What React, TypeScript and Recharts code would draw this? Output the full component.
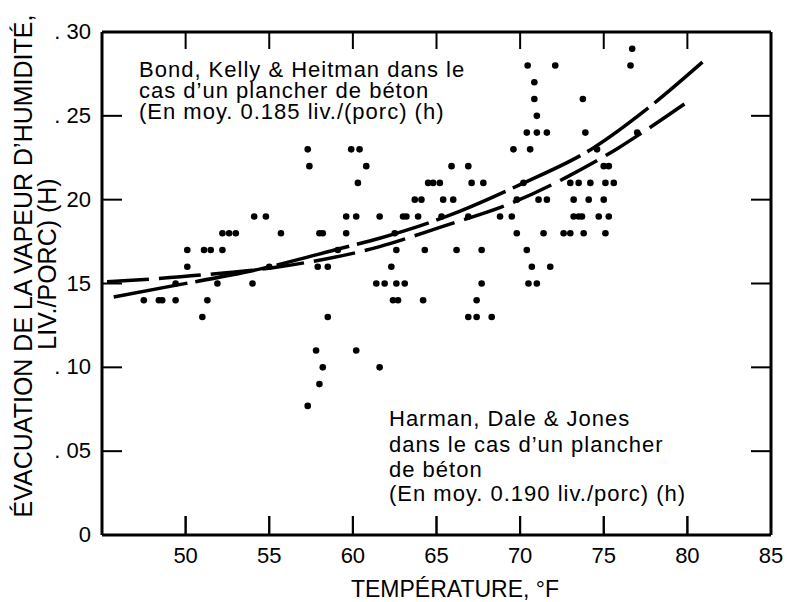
import React from 'react'
import { ComposedChart, Line, Scatter, XAxis, YAxis, ReferenceLine } from 'recharts'

// axes
const X_TICKS = [50, 55, 60, 65, 70, 75, 80, 85]
const X_INNER_TICKS = [50, 55, 60, 65, 70, 75, 80]
const Y_TICKS = [0, 0.05, 0.1, 0.15, 0.2, 0.25, 0.3]
const Y_INNER_TICKS = [0.05, 0.1, 0.15, 0.2, 0.25]
const Y_TICK_LABELS = ['0', '. 05', '. 10', '15', '20', '. 25', '. 30']

// observed points (temperature °F, lb per pig per hour)
const obsTemp = [
  47.5, 48.4, 48.6, 49.4, 49.4, 50.1, 50.1, 51.1, 51.5, 52.2, 52.2, 52.6, 53.0, 54.1, 54.8, 55.7,
  51.0, 51.3, 51.9, 54.0, 55.0,
  57.3, 57.4, 59.9, 60.4, 60.8, 60.3, 65.9, 64.5, 64.8, 65.2, 63.7, 64.1, 65.4, 66.0,
  59.6, 60.2, 61.6, 63.0, 63.2, 63.9, 65.3, 58.0, 58.2, 59.6, 62.5, 59.1, 62.6, 64.3, 66.2,
  57.9, 58.5, 62.3, 61.4, 61.9, 62.6, 63.1, 62.4, 62.7, 64.2, 58.5, 57.8, 60.2, 58.2, 61.6,
  58.0, 57.3,
  70.4, 71.0, 71.6, 73.9, 69.6, 70.6, 66.9, 74.6, 75.0, 75.3, 67.1, 67.8, 70.2, 73.0, 73.5,
  74.2, 75.1, 75.6, 69.8, 71.1, 71.6, 73.2, 74.1, 75.0, 66.9, 68.8, 69.5, 73.2, 73.5, 73.7,
  74.7, 75.3, 69.8, 71.4, 72.6, 73.0, 73.8, 75.1, 67.7, 70.4, 70.7, 71.8, 67.7, 70.5, 71.0,
  67.4, 66.9, 67.4, 68.3,
  70.45, 72.1, 70.85, 70.85, 73.75, 71.0, 76.7, 76.6, 77.0,
]
const obsRate = [
  0.14, 0.14, 0.14, 0.14, 0.15, 0.16, 0.17, 0.17, 0.17, 0.17, 0.18, 0.18, 0.18, 0.19, 0.19, 0.18,
  0.13, 0.14, 0.15, 0.15, 0.16,
  0.23, 0.22, 0.23, 0.23, 0.22, 0.21, 0.22, 0.21, 0.21, 0.21, 0.2, 0.2, 0.2, 0.2,
  0.19, 0.19, 0.19, 0.19, 0.19, 0.19, 0.19, 0.18, 0.18, 0.18, 0.18, 0.17, 0.17, 0.17, 0.17,
  0.16, 0.16, 0.16, 0.15, 0.15, 0.15, 0.15, 0.14, 0.14, 0.14, 0.13, 0.11, 0.11, 0.1, 0.1,
  0.09, 0.077,
  0.24, 0.24, 0.24, 0.24, 0.23, 0.23, 0.22, 0.23, 0.22, 0.22, 0.21, 0.21, 0.21, 0.21, 0.21,
  0.21, 0.21, 0.21, 0.2, 0.2, 0.2, 0.2, 0.2, 0.2, 0.19, 0.19, 0.19, 0.19, 0.19, 0.19,
  0.19, 0.19, 0.18, 0.18, 0.18, 0.18, 0.18, 0.18, 0.17, 0.17, 0.16, 0.16, 0.15, 0.15, 0.15,
  0.14, 0.13, 0.13, 0.13,
  0.28, 0.28, 0.27, 0.26, 0.26, 0.25, 0.29, 0.28, 0.24,
]

// fitted curves
const curveATemp = [45.7, 48.9, 54.6, 59.3, 61.6, 65.6, 70.0, 74.4, 77.7, 80.9]
const curveARate = [0.142, 0.148, 0.159, 0.171, 0.177, 0.19, 0.209, 0.231, 0.255, 0.282]
const curveBTemp = [45.3, 50.9, 55.6, 61.6, 65.2, 69.5, 72.7, 75.9, 77.3, 80.1]
const curveBRate = [0.151, 0.155, 0.16, 0.172, 0.1835, 0.198, 0.213, 0.231, 0.24, 0.259]

const X_MIN = 45
const X_MAX = 85
const Y_MIN = 0
const Y_MAX = 0.3

const points = obsTemp.map((t, i) => ({ t, v: obsRate[i] }))
const curveA = curveATemp.map((t, i) => ({ t, v: curveARate[i] }))
const curveB = curveBTemp.map((t, i) => ({ t, v: curveBRate[i] }))

// tick positions on the four edges of the frame
const bottomTicks = X_INNER_TICKS.map((t) => ({ t, v: Y_MIN }))
const topTicks = X_INNER_TICKS.map((t) => ({ t, v: Y_MAX }))
const leftTicks = Y_INNER_TICKS.map((v) => ({ t: X_MIN, v }))
const rightTicks = Y_INNER_TICKS.map((v) => ({ t: X_MAX, v }))

const W = 790
const H = 602
const MARGIN = { top: 32, right: 19, bottom: 0, left: 0 }

const FONT = '"Liberation Sans", Arial, sans-serif'

const BottomTick = (props: any) => {
  const { x, y, payload } = props
  return (
    <g>
      {payload.value < X_MAX && <line x1={x} y1={y} x2={x} y2={y - 19} stroke="#000" strokeWidth={2} />}
      <text x={x} y={y + 28} textAnchor="middle" fontFamily={FONT} fontSize={22} fill="#000">
        {payload.value}
      </text>
    </g>
  )
}

const LeftTick = (props: any) => {
  const { x, y, payload } = props
  const idx = Y_TICKS.findIndex((t) => Math.abs(t - payload.value) < 1e-6)
  return (
    <text x={x - 11} y={y} dy={7} textAnchor="end" fontFamily={FONT} fontSize={22} fill="#000">
      {Y_TICK_LABELS[idx]}
    </text>
  )
}

const dot = (p: any) => <circle cx={p.cx} cy={p.cy} r={3.3} fill="#000" />
const upTick = (p: any) => <line x1={p.cx} y1={p.cy} x2={p.cx} y2={p.cy - 19} stroke="#000" strokeWidth={2} />
const downTick = (p: any) => <line x1={p.cx} y1={p.cy} x2={p.cx} y2={p.cy + 17} stroke="#000" strokeWidth={2} />
const rightwardTick = (p: any) => <line x1={p.cx} y1={p.cy} x2={p.cx + 20} y2={p.cy} stroke="#000" strokeWidth={2} />
const leftwardTick = (p: any) => <line x1={p.cx} y1={p.cy} x2={p.cx - 20} y2={p.cy} stroke="#000" strokeWidth={2} />

// titles and notes, drawn inside the chart's own svg
const Texts = () => (
  <g fontFamily={FONT} fill="#000">
    <text transform="translate(32,266) rotate(-90)" textAnchor="middle" fontSize={25}>
      ÉVACUATION DE LA VAPEUR D’HUMIDITÉ,
    </text>
    <text transform="translate(56,264) rotate(-90)" textAnchor="middle" fontSize={25}>
      LIV./PORC) (H)
    </text>
    <text x={455} y={597} textAnchor="middle" fontSize={23}>
      TEMPÉRATURE, °F
    </text>
    <g fontSize={22} letterSpacing={1}>
      <text x={139} y={77}>Bond, Kelly &amp; Heitman dans le</text>
      <text x={139} y={98}>cas d’un plancher de béton</text>
      <text x={139} y={119}>(En moy. 0.185 liv./(porc) (h)</text>
      <text x={389} y={426}>Harman, Dale &amp; Jones</text>
      <text x={389} y={452}>dans le cas d’un plancher</text>
      <text x={389} y={477}>de béton</text>
      <text x={389} y={501}>(En moy. 0.190 liv./porc) (h)</text>
    </g>
  </g>
)

export default function App() {
  const axisLine = { stroke: '#000', strokeWidth: 3 }
  return (
    <div style={{ position: 'absolute', left: 0, top: 0, width: W, height: H, background: '#fff' }}>
      <ComposedChart width={W} height={H} margin={MARGIN}>
        <XAxis
          dataKey="t"
          type="number"
          domain={[X_MIN, X_MAX]}
          ticks={X_TICKS}
          height={67}
          axisLine={axisLine}
          tickLine={false}
          tickSize={0}
          tickMargin={0}
          tick={<BottomTick />}
          interval={0}
          label={<Texts />}
        />
        <YAxis
          dataKey="v"
          type="number"
          domain={[Y_MIN, Y_MAX]}
          ticks={Y_TICKS}
          width={102}
          axisLine={axisLine}
          tickLine={false}
          tickSize={0}
          tickMargin={0}
          tick={<LeftTick />}
          interval={0}
        />
        {/* top and right edges of the frame */}
        <ReferenceLine y={Y_MAX} stroke="#000" strokeWidth={3} />
        <ReferenceLine x={X_MAX} stroke="#000" strokeWidth={3} />
        {/* inward tick marks */}
        <Scatter data={bottomTicks} dataKey="v" shape={upTick} isAnimationActive={false} />
        <Scatter data={topTicks} dataKey="v" shape={downTick} isAnimationActive={false} />
        <Scatter data={leftTicks} dataKey="v" shape={rightwardTick} isAnimationActive={false} />
        <Scatter data={rightTicks} dataKey="v" shape={leftwardTick} isAnimationActive={false} />
        <Scatter data={points} dataKey="v" shape={dot} isAnimationActive={false} />
        <Line
          data={curveA}
          dataKey="v"
          type="monotone"
          stroke="#000"
          strokeWidth={3.5}
          strokeDasharray="75 8"
          dot={false}
          isAnimationActive={false}
        />
        <Line
          data={curveB}
          dataKey="v"
          type="monotone"
          stroke="#000"
          strokeWidth={3.5}
          strokeDasharray="42 10"
          dot={false}
          isAnimationActive={false}
        />
      </ComposedChart>
    </div>
  )
}
